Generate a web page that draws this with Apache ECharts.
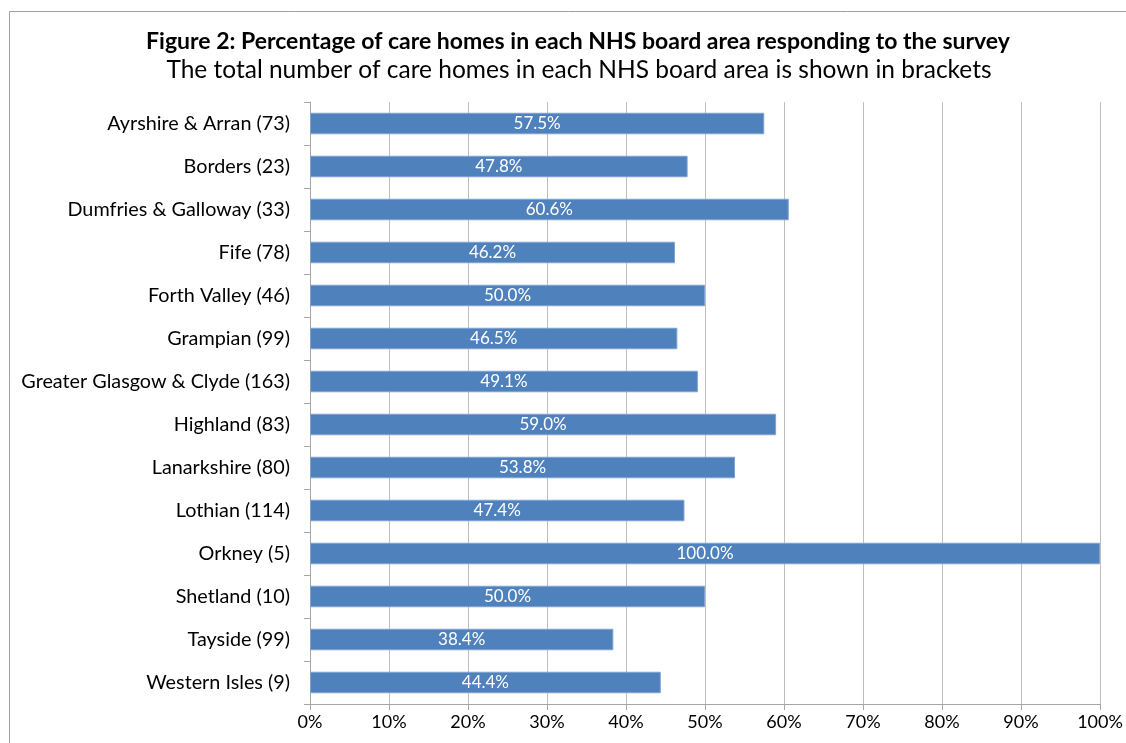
<!DOCTYPE html>
<html lang="en">
<head>
	<meta charset="UTF-8">
	<title>NHS board survey response</title>
	<script src="https://cdn.jsdelivr.net/npm/echarts@6/dist/echarts.min.js"></script>
	<style>
		body { margin: 0; background: #fff; }
		#chart { width: 1126px; height: 743px; }
	</style>
</head>
<body>
	<div id="chart"></div>
	<script>
		// board areas (care home totals in brackets)
		let boards = [
			'Ayrshire & Arran (73)', 'Borders (23)', 'Dumfries & Galloway (33)', 'Fife (78)',
			'Forth Valley (46)', 'Grampian (99)', 'Greater Glasgow & Clyde (163)', 'Highland (83)',
			'Lanarkshire (80)', 'Lothian (114)', 'Orkney (5)', 'Shetland (10)',
			'Tayside (99)', 'Western Isles (9)'
		];
		// percentage responding
		let responded = [57.5, 47.8, 60.6, 46.2, 50.0, 46.5, 49.1, 59.0, 53.8, 47.4, 100.0, 50.0, 38.4, 44.4];

		let font = 'Lato, "Open Sans", sans-serif';
		let chart = echarts.init(document.getElementById('chart'));
		chart.setOption({
			animation: false,
			graphic: [{
				type: 'rect',
				shape: { x: 9.5, y: 11.5, width: 1200, height: 800 },
				style: { fill: 'none', stroke: '#a0a0a0', lineWidth: 1 }
			}],
			title: [{
				text: 'Figure 2: Percentage of care homes in each NHS board area responding to the survey',
				left: 573,
				textAlign: 'center',
				top: 25,
				textStyle: { fontFamily: font, fontSize: 23, fontWeight: 'bold', color: '#000' }
			}, {
				text: 'The total number of care homes in each NHS board area is shown in brackets',
				left: 574,
				textAlign: 'center',
				top: 53,
				textStyle: { fontFamily: font, fontSize: 24.5, fontWeight: 'normal', color: '#000' }
			}],
			grid: { left: 310, right: 26, top: 102, bottom: 39, containLabel: false },
			xAxis: {
				type: 'value',
				min: 0,
				max: 100,
				interval: 10,
				axisLine: { show: true, lineStyle: { color: '#a6a6a6' } },
				axisTick: { show: true, length: 6, lineStyle: { color: '#a6a6a6' } },
				splitLine: { show: true, lineStyle: { color: '#bfbfbf', width: 1 } },
				axisLabel: {
					formatter: '{value}%',
					margin: 9,
					fontFamily: font,
					fontSize: 18,
					color: '#000'
				}
			},
			yAxis: {
				type: 'category',
				data: boards,
				inverse: true,
				axisLine: { show: true, lineStyle: { color: '#a6a6a6' } },
				axisTick: { show: true, length: 6, lineStyle: { color: '#a6a6a6' } },
				axisLabel: { margin: 20, fontFamily: font, fontSize: 19.8, color: '#000' }
			},
			series: [{
				type: 'bar',
				data: responded,
				barCategoryGap: '50%',
				itemStyle: { color: '#4f81bd', borderColor: '#7fa3d0', borderWidth: 1 },
				label: {
					show: true,
					position: 'inside',
					formatter: p => p.value.toFixed(1) + '%',
					color: '#fff',
					fontFamily: font,
					fontSize: 17
				}
			}]
		});
	</script>
</body>
</html>
